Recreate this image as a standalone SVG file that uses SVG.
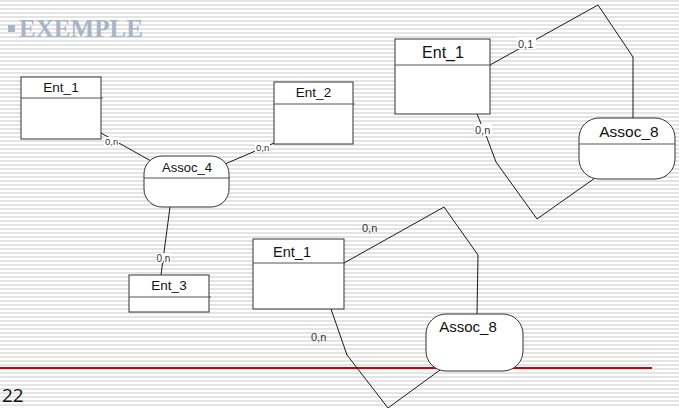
<svg xmlns="http://www.w3.org/2000/svg" width="679" height="408" viewBox="0 0 679 408">
<defs>
<pattern id="stripes" x="0" y="0" width="8" height="4" patternUnits="userSpaceOnUse">
<rect x="0" y="0" width="8" height="4" fill="#ffffff"/>
<rect x="0" y="0" width="8" height="2" fill="#e4e4e4"/>
</pattern>
<style>
.box{fill:#ffffff;stroke:#333333;stroke-width:1}
.div{stroke:#555555;stroke-width:1}
.conn{fill:none;stroke:#1a1a1a;stroke-width:1}
.lbl{font-family:"Liberation Sans",Arial,sans-serif;fill:#333333}
.name{font-family:"Liberation Sans",Arial,sans-serif;fill:#111111;text-anchor:middle}
.bg{fill:#ffffff}
</style>
</defs>
<rect x="0" y="0" width="679" height="408" fill="url(#stripes)"/>

<g id="title">
<rect x="8" y="25" width="7" height="7" fill="#a7b5c6"/>
<text x="19" y="37" font-family="'Liberation Serif','Times New Roman',serif" font-weight="bold" font-size="25" fill="#a7b5c6" textLength="124" lengthAdjust="spacingAndGlyphs">EXEMPLE</text>
</g>

<g id="redline">
<line x1="0" y1="368" x2="652" y2="368" stroke="#cc0000" stroke-width="2"/>
</g>

<g id="connectors">
<line class="conn" x1="101" y1="133" x2="151" y2="161"/>
<line class="conn" x1="225" y1="164" x2="274" y2="143"/>
<line class="conn" x1="170" y1="207" x2="161" y2="275"/>
<polyline class="conn" points="490,65 598,5 633,57 633,118"/>
<polyline class="conn" points="477,114 487,138 496,162 537,219 595,178"/>
<polyline class="conn" points="344,263 444,207 478,255 477,314"/>
<polyline class="conn" points="331,309 347,355 388,408 440,370"/>
</g>

<g id="labels">
<rect class="bg" x="104" y="137" width="15" height="9"/>
<text class="lbl" x="105" y="145" font-size="9.5">0,n</text>
<rect class="bg" x="255" y="143" width="15" height="9"/>
<text class="lbl" x="256" y="151" font-size="9.5">0,n</text>
<rect class="bg" x="156" y="253" width="15" height="10"/>
<text class="lbl" x="156.5" y="262" font-size="10">0,n</text>
<rect class="bg" x="517" y="37" width="19" height="12"/>
<text class="lbl" x="518" y="48" font-size="11">0,1</text>
<rect class="bg" x="474" y="124" width="18" height="12"/>
<text class="lbl" x="475" y="134" font-size="11">0,n</text>
<text class="lbl" x="362" y="232" font-size="11">0,n</text>
<text class="lbl" x="311" y="341" font-size="11">0,n</text>
</g>

<g id="ent1-left">
<rect class="box" x="21" y="77" width="80" height="62"/>
<line class="div" x1="21" y1="98" x2="103" y2="98"/>
<text class="name" x="61" y="92" font-size="13.5">Ent_1</text>
</g>

<g id="ent2">
<rect class="box" x="274" y="82" width="79" height="62"/>
<line class="div" x1="274" y1="104" x2="355" y2="104"/>
<text class="name" x="313.5" y="97" font-size="13.5">Ent_2</text>
</g>

<g id="assoc4">
<rect class="box" x="144" y="156" width="85" height="51" rx="18" ry="18"/>
<line class="div" x1="144" y1="178" x2="230" y2="178"/>
<text class="name" x="187" y="172" font-size="13">Assoc_4</text>
</g>

<g id="ent3">
<rect class="box" x="129" y="275" width="80" height="37"/>
<line class="div" x1="129" y1="297" x2="211" y2="297"/>
<text class="name" x="169" y="290" font-size="13.5">Ent_3</text>
</g>

<g id="ent1-right">
<rect class="box" x="395" y="39" width="95" height="75"/>
<line class="div" x1="395" y1="65" x2="490" y2="65"/>
<text class="name" x="443" y="58" font-size="16">Ent_1</text>
</g>

<g id="assoc8-right">
<rect class="box" x="579" y="118" width="96" height="61" rx="20" ry="20"/>
<line class="div" x1="579" y1="144" x2="675" y2="144"/>
<text class="name" x="629" y="137" font-size="15.5">Assoc_8</text>
</g>

<g id="ent1-bottom">
<rect class="box" x="253" y="239" width="91" height="70"/>
<line class="div" x1="253" y1="263" x2="344" y2="263"/>
<text class="name" x="292" y="257" font-size="14.5">Ent_1</text>
</g>

<g id="assoc8-bottom">
<rect class="box" x="426" y="314" width="97" height="57" rx="20" ry="20"/>
<text class="name" x="468" y="332" font-size="15">Assoc_8</text>
</g>

<g id="pagenum">
<text x="2" y="402" font-family="'Open Sans','DejaVu Sans',sans-serif" font-size="19" fill="#111111">22</text>
</g>
</svg>
